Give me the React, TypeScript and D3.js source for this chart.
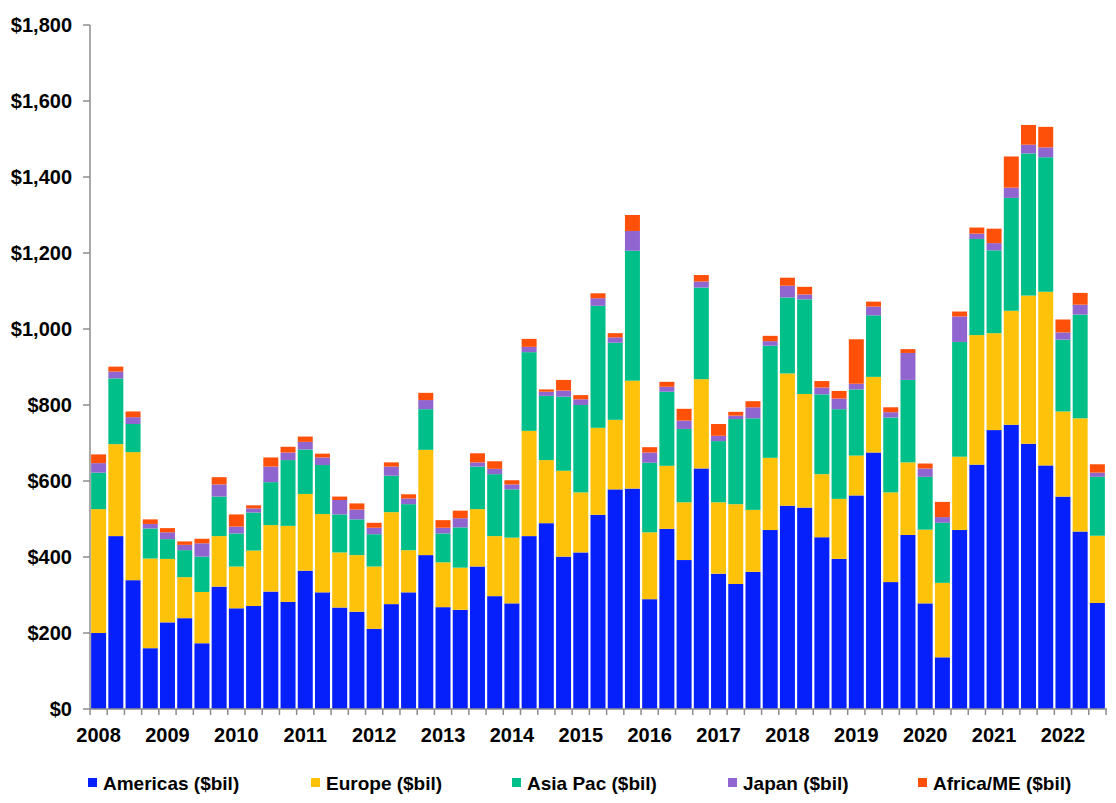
import * as d3 from "d3";

const years = [2008, 2009, 2010, 2011, 2012, 2013, 2014, 2015, 2016, 2017, 2018, 2019, 2020, 2021, 2022];
const quarterNames = ["Q1", "Q2", "Q3", "Q4"];
const quarters = years.flatMap((y) => quarterNames.map((q) => `${y}${q}`)).slice(0, 59);

const americas = [
  200, 455, 339, 160, 228, 239, 173, 322, 265, 271, 309, 282, 364, 307, 267, 256, 211, 276, 307, 405,
  268, 261, 375, 297, 278, 455, 489, 401, 412, 511, 578, 580, 289, 474, 392, 633, 356, 329, 361, 471,
  535, 530, 452, 395, 562, 675, 334, 458, 278, 136, 471, 643, 734, 748, 698, 641, 559, 467, 279,
];
const europe = [
  326, 242, 337, 236, 167, 108, 135, 133, 110, 146, 175, 200, 202, 206, 145, 149, 164, 242, 111, 277,
  118, 111, 151, 158, 173, 277, 166, 226, 158, 229, 183, 284, 176, 166, 152, 235, 188, 210, 163, 190,
  348, 299, 166, 158, 105, 199, 236, 191, 194, 196, 193, 341, 255, 300, 390, 457, 224, 298, 177,
];
const asiaPac = [
  96, 173, 74, 79, 52, 71, 93, 104, 87, 100, 113, 173, 117, 129, 100, 94, 85, 96, 121, 107,
  76, 106, 112, 163, 127, 207, 169, 195, 230, 321, 203, 342, 183, 195, 193, 241, 161, 224, 241, 295,
  200, 249, 210, 236, 174, 162, 197, 217, 139, 158, 302, 253, 218, 297, 374, 354, 189, 273, 155,
];
const japan = [
  25, 18, 18, 12, 18, 14, 35, 32, 18, 11, 41, 20, 20, 20, 38, 26, 17, 24, 15, 24,
  15, 24, 11, 14, 13, 14, 11, 16, 15, 20, 14, 52, 27, 13, 22, 16, 14, 9, 29, 12,
  31, 13, 18, 28, 15, 23, 14, 71, 22, 15, 67, 14, 19, 27, 23, 26, 19, 26, 11,
];
const africaME = [
  23, 13, 15, 12, 11, 9, 12, 19, 32, 8, 24, 15, 14, 10, 9, 16, 13, 11, 11, 19,
  20, 20, 24, 20, 11, 21, 6, 28, 11, 13, 11, 42, 14, 13, 31, 17, 31, 10, 16, 14,
  21, 20, 17, 20, 117, 13, 13, 10, 13, 40, 13, 16, 38, 82, 52, 54, 34, 31, 22,
];

const seriesNames = ["Americas ($bil)", "Europe ($bil)", "Asia Pac ($bil)", "Japan ($bil)", "Africa/ME ($bil)"];
const seriesValues = [americas, europe, asiaPac, japan, africaME];
const colors = ["#0520fb", "#ffc20a", "#00bf88", "#9165cf", "#ff5009"];
const yTicks = [0, 200, 400, 600, 800, 1000, 1200, 1400, 1600, 1800];

const width = 1116;
const height = 803;
const plot = { left: 90, right: 1106, top: 25, bottom: 709 };
const legendX = [88, 311, 512, 728, 918];
const font = "'Liberation Sans', Arial, sans-serif";
const axisColor = "#8c8c8c";

const App = () => {
  const rows = quarters.map((q, i) => {
    const row: Record<string, any> = { q };
    seriesNames.forEach((name, s) => (row[name] = seriesValues[s][i]));
    return row;
  });

  const stacked = d3.stack<Record<string, any>>().keys(seriesNames)(rows);

  const xScale = d3
    .scaleBand()
    .domain(quarters)
    .range([plot.left, plot.right])
    .paddingInner(0.13)
    .paddingOuter(0.065);

  const yScale = d3.scaleLinear().domain([0, 1800]).range([plot.bottom, plot.top]);

  const step = xScale.step();
  const fmt = (v: number) => "$" + d3.format(",")(v);

  return (
    <svg
      width={width}
      height={height}
      style={{ position: "absolute", left: 0, top: 0, background: "#fff" }}
      fontFamily={font}
      fontWeight="bold"
    >
      {stacked.map((layer, s) => (
        <g key={layer.key} fill={colors[s]}>
          {layer.map((d, i) => (
            <rect
              key={i}
              x={xScale(quarters[i])!}
              y={yScale(d[1])}
              width={xScale.bandwidth()}
              height={yScale(d[0]) - yScale(d[1])}
            />
          ))}
        </g>
      ))}

      {/* y axis */}
      <line x1={plot.left} x2={plot.left} y1={plot.top} y2={plot.bottom} stroke={axisColor} strokeWidth={1.5} />
      {yTicks.map((t) => (
        <g key={t}>
          <line x1={plot.left - 7} x2={plot.left} y1={yScale(t)} y2={yScale(t)} stroke={axisColor} strokeWidth={1.5} />
          <text x={72} y={yScale(t)} dy="0.36em" textAnchor="end" fontSize={20} fill="#000">
            {fmt(t)}
          </text>
        </g>
      ))}

      {/* x axis */}
      <line x1={plot.left} x2={plot.right + 1} y1={plot.bottom} y2={plot.bottom} stroke={axisColor} strokeWidth={1.5} />
      {d3.range(quarters.length + 1).map((i) => (
        <line
          key={i}
          x1={plot.left + i * step}
          x2={plot.left + i * step}
          y1={plot.bottom}
          y2={plot.bottom + 6}
          stroke={axisColor}
          strokeWidth={1.5}
        />
      ))}
      {years.map((y) => (
        <text
          key={y}
          x={xScale(`${y}Q1`)! + xScale.bandwidth() / 2}
          y={742}
          textAnchor="middle"
          fontSize={20}
          fill="#000"
        >
          {y}
        </text>
      ))}

      {/* legend */}
      {seriesNames.map((name, s) => (
        <g key={name}>
          <rect x={legendX[s]} y={778} width={9} height={9} fill={colors[s]} />
          <text x={legendX[s] + 15} y={790} fontSize={19} fill="#000">
            {name}
          </text>
        </g>
      ))}
    </svg>
  );
};

export default App;
